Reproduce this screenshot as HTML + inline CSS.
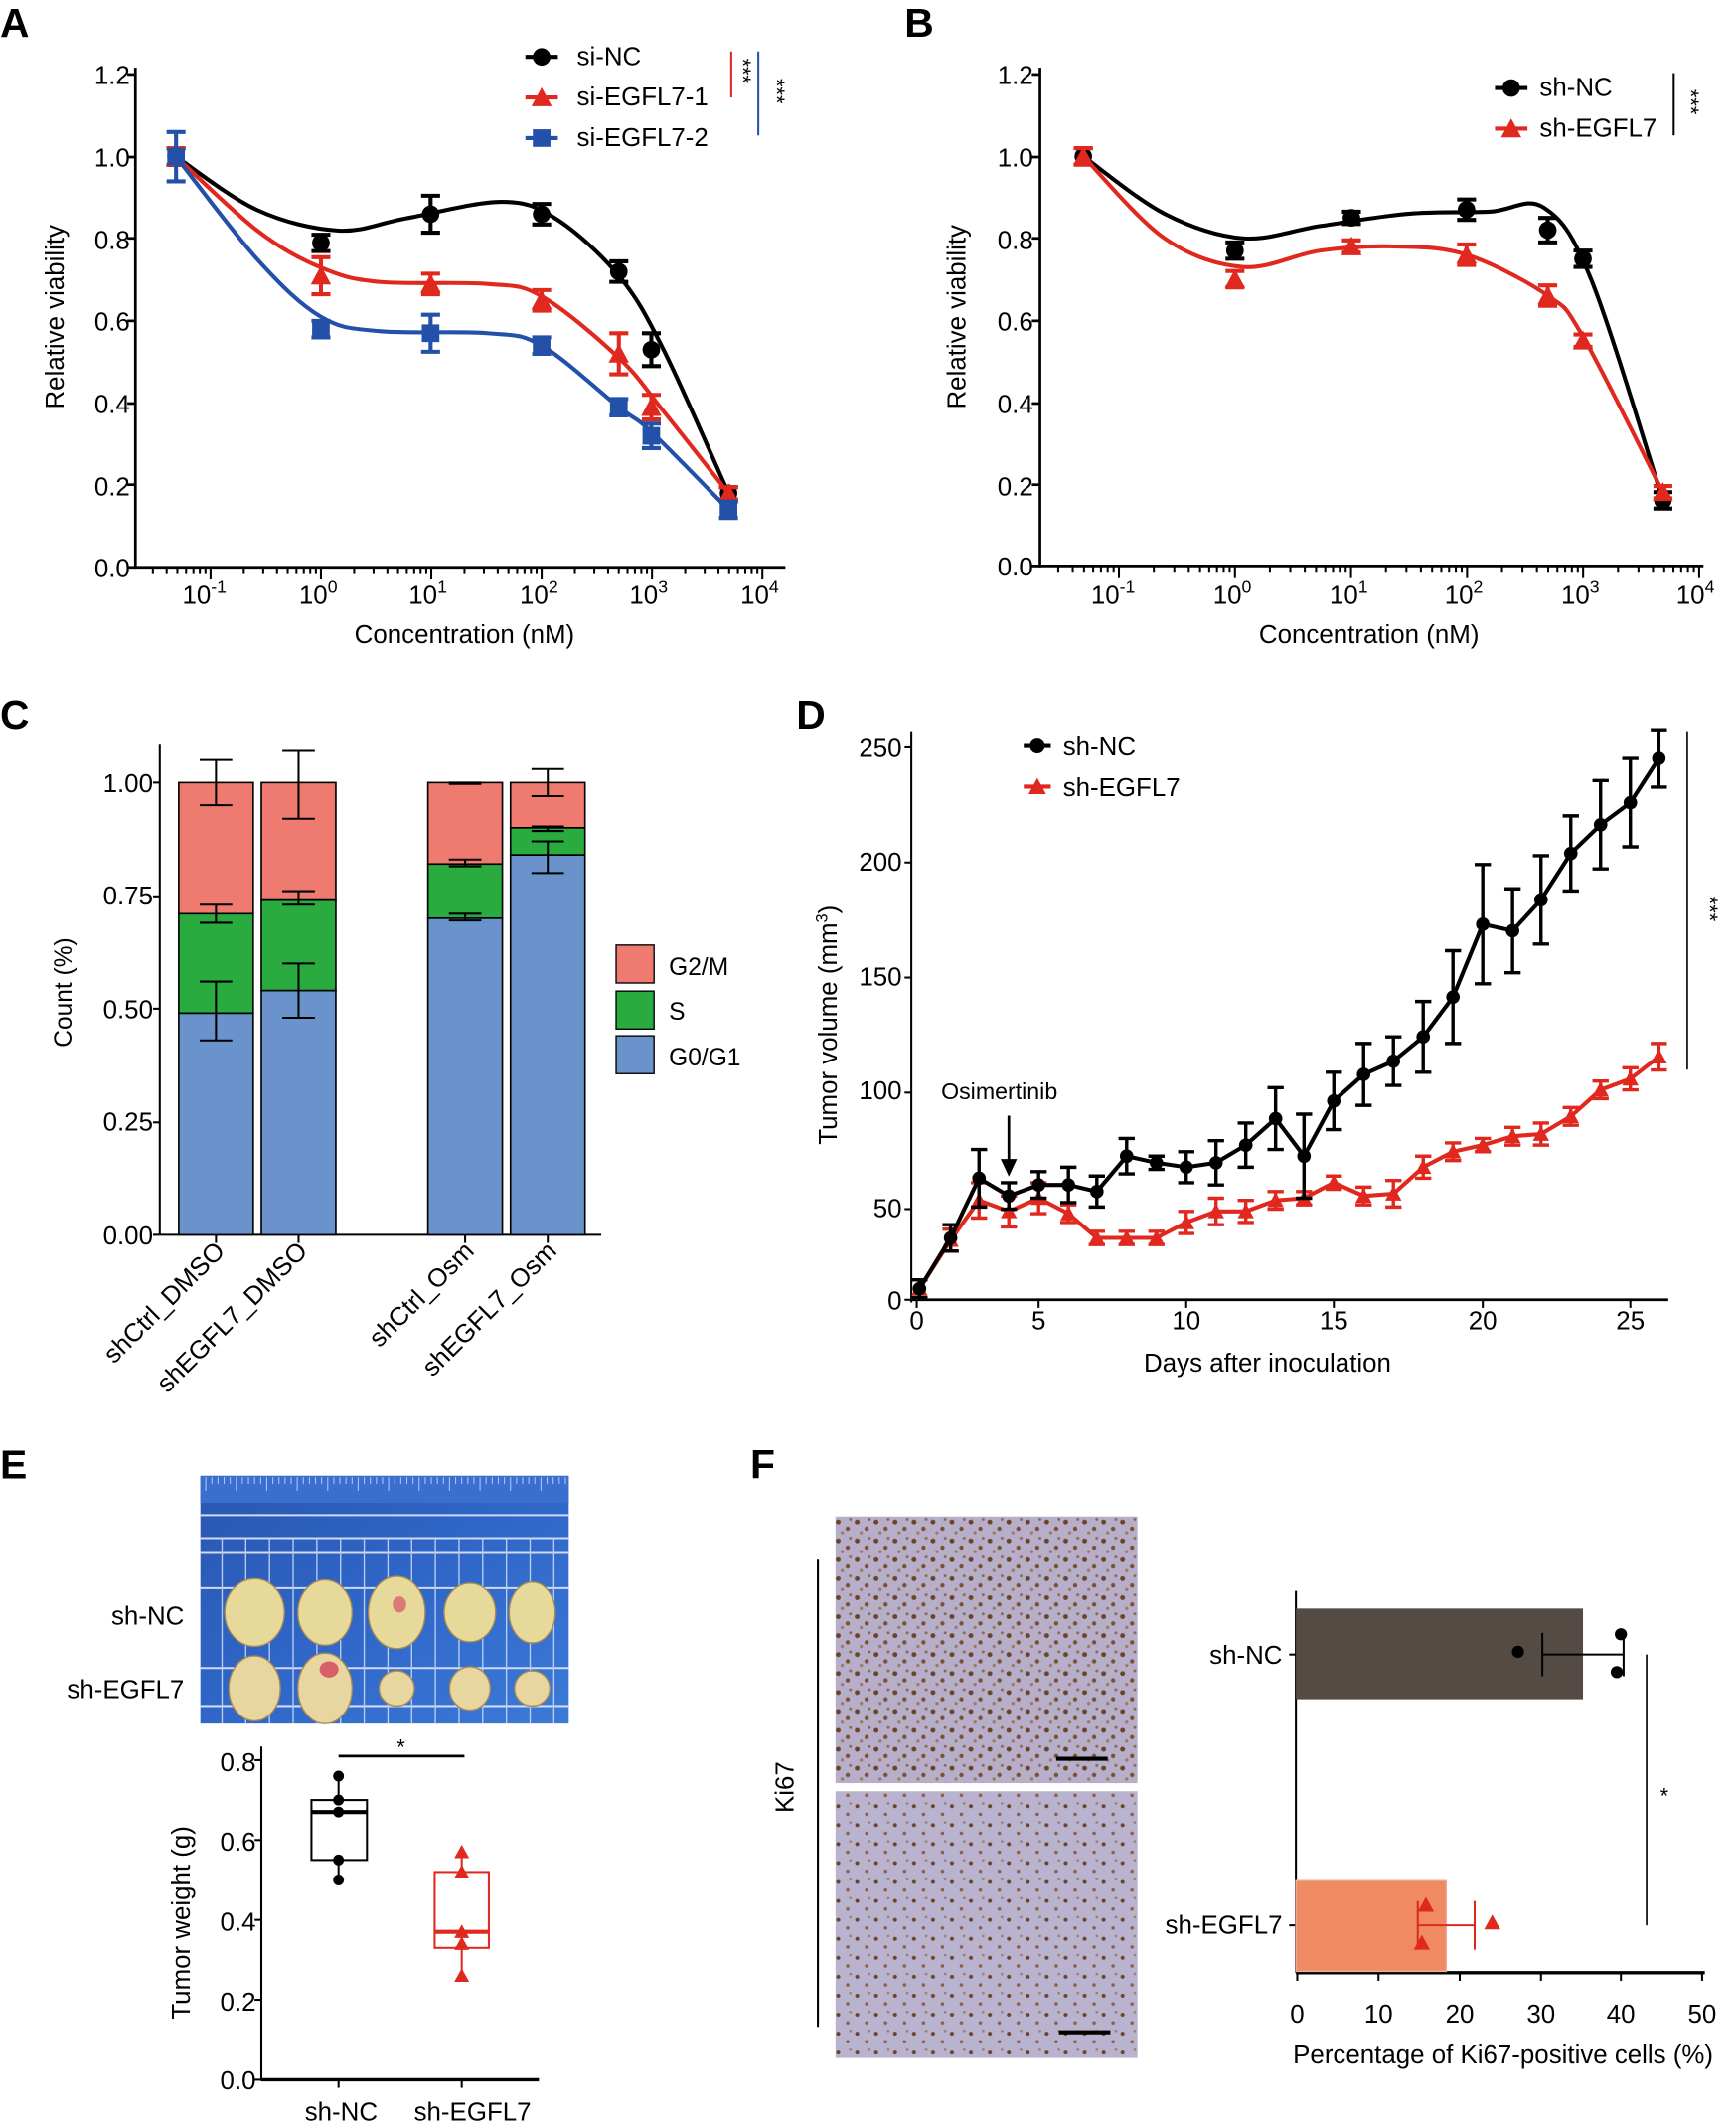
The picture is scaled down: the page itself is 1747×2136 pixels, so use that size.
<!DOCTYPE html>
<html><head><meta charset="utf-8"><style>
html,body{margin:0;padding:0;background:#fff}
svg{display:block;font-family:"Liberation Sans",Arial,sans-serif}
</style></head><body>
<svg id="s" width="1747" height="2136" viewBox="0 0 1282 1568" preserveAspectRatio="none" xmlns="http://www.w3.org/2000/svg">
<defs>
<linearGradient id="blue" x1="0" y1="0" x2="1" y2="1"><stop offset="0" stop-color="#2a56b0"/><stop offset="0.5" stop-color="#2f66c8"/><stop offset="1" stop-color="#3c7ad8"/></linearGradient>
<pattern id="ihc" width="14" height="14" patternUnits="userSpaceOnUse">
<rect width="14" height="14" fill="#b7aeca"/>
<circle cx="3" cy="4" r="1.8" fill="#6b4426"/><circle cx="10" cy="9" r="1.6" fill="#7a5030"/><circle cx="6" cy="12" r="1.2" fill="#9a7a60"/><circle cx="12" cy="2" r="1.1" fill="#8c6a4e"/>
</pattern>
<pattern id="ihc2" width="14" height="14" patternUnits="userSpaceOnUse">
<rect width="14" height="14" fill="#bab3cf"/>
<circle cx="3" cy="4" r="1.5" fill="#6b4426"/><circle cx="10" cy="10" r="1.3" fill="#8a6040"/><circle cx="12" cy="2" r="1" fill="#9c8068"/>
</pattern>
</defs>
<g font-weight="bold" font-size="30">
<text x="0" y="27">A</text><text x="668" y="27">B</text><text x="0" y="538">C</text><text x="588" y="538">D</text><text x="0" y="1092">E</text><text x="554" y="1092">F</text>
</g>
<g id="g"></g>
<g font-size="19" text-anchor="end">
<text x="96" y="62">1.2</text><text x="96" y="123">1.0</text><text x="96" y="184">0.8</text><text x="96" y="244">0.6</text><text x="96" y="305">0.4</text><text x="96" y="366">0.2</text><text x="96" y="426">0.0</text>
<text x="763" y="62">1.2</text><text x="763" y="123">1.0</text><text x="763" y="184">0.8</text><text x="763" y="244">0.6</text><text x="763" y="305">0.4</text><text x="763" y="366">0.2</text><text x="763" y="425">0.0</text>
</g>
<g font-size="19" text-anchor="middle">
<text x="151" y="446">10<tspan dy="-8" font-size="13">-1</tspan></text>
<text x="235" y="446">10<tspan dy="-8" font-size="13">0</tspan></text>
<text x="316" y="446">10<tspan dy="-8" font-size="13">1</tspan></text>
<text x="398" y="446">10<tspan dy="-8" font-size="13">2</tspan></text>
<text x="479" y="446">10<tspan dy="-8" font-size="13">3</tspan></text>
<text x="561" y="446">10<tspan dy="-8" font-size="13">4</tspan></text>
<text x="822" y="446">10<tspan dy="-8" font-size="13">-1</tspan></text>
<text x="910" y="446">10<tspan dy="-8" font-size="13">0</tspan></text>
<text x="996" y="446">10<tspan dy="-8" font-size="13">1</tspan></text>
<text x="1081" y="446">10<tspan dy="-8" font-size="13">2</tspan></text>
<text x="1167" y="446">10<tspan dy="-8" font-size="13">3</tspan></text>
<text x="1252" y="446">10<tspan dy="-8" font-size="13">4</tspan></text>
<text x="343" y="475" font-size="19">Concentration (nM)</text>
<text x="1011" y="475" font-size="19">Concentration (nM)</text>
<text transform="translate(47,234) rotate(-90)" font-size="19">Relative viability</text>
<text transform="translate(713,234) rotate(-90)" font-size="19">Relative viability</text>
</g>
<g font-size="19">
<text x="426" y="48">si-NC</text><text x="426" y="78">si-EGFL7-1</text><text x="426" y="108">si-EGFL7-2</text>
<text x="1137" y="71">sh-NC</text><text x="1137" y="101">sh-EGFL7</text>
</g>
<g font-size="16">
<text transform="translate(543,43) rotate(90)">***</text>
<text transform="translate(568,58) rotate(90)">***</text>
<text transform="translate(1243,66) rotate(90)">***</text>
<text transform="translate(1257,662) rotate(90)">***</text>
<text x="1226" y="1332">*</text>
<text x="293" y="1296">*</text>
</g>
<g font-size="19" text-anchor="end">
<text x="113" y="585">1.00</text><text x="113" y="668">0.75</text><text x="113" y="752">0.50</text><text x="113" y="835">0.25</text><text x="113" y="919">0.00</text>
</g>
<text transform="translate(53,733) rotate(-90)" font-size="18" text-anchor="middle">Count (%)</text>
<g font-size="19" text-anchor="end">
<text transform="translate(167,925) rotate(-45)">shCtrl_DMSO</text>
<text transform="translate(228,925) rotate(-45)">shEGFL7_DMSO</text>
<text transform="translate(351,925) rotate(-45)">shCtrl_Osm</text>
<text transform="translate(412,925) rotate(-45)">shEGFL7_Osm</text>
</g>
<g font-size="18"><text x="494" y="720">G2/M</text><text x="494" y="753">S</text><text x="494" y="787">G0/G1</text></g>
<g font-size="19" text-anchor="end">
<text x="666" y="559">250</text><text x="666" y="643">200</text><text x="666" y="728">150</text><text x="666" y="812">100</text><text x="666" y="899">50</text><text x="666" y="967">0</text>
</g>
<g font-size="19" text-anchor="middle">
<text x="677" y="982">0</text><text x="767" y="982">5</text><text x="876" y="982">10</text><text x="985" y="982">15</text><text x="1095" y="982">20</text><text x="1204" y="982">25</text>
<text x="936" y="1013" font-size="19">Days after inoculation</text>
<text transform="translate(618,757) rotate(-90)" font-size="19">Tumor volume (mm<tspan dy="-7" font-size="12">3</tspan><tspan dy="7">)</tspan></text>
</g>
<g font-size="19"><text x="785" y="558">sh-NC</text><text x="785" y="588">sh-EGFL7</text></g>
<text x="695" y="812" font-size="17">Osimertinib</text>
<g font-size="19" text-anchor="end"><text x="136" y="1200">sh-NC</text><text x="136" y="1254">sh-EGFL7</text></g>
<g font-size="19" text-anchor="end">
<text x="189" y="1308">0.8</text><text x="189" y="1367">0.6</text><text x="189" y="1426">0.4</text><text x="189" y="1485">0.2</text><text x="189" y="1543">0.0</text>
</g>
<text transform="translate(140,1420) rotate(-90)" font-size="19" text-anchor="middle">Tumor weight (g)</text>
<g font-size="19" text-anchor="middle"><text x="252" y="1566">sh-NC</text><text x="349" y="1566">sh-EGFL7</text></g>
<text transform="translate(586,1320) rotate(-90)" font-size="19" text-anchor="middle">Ki67</text>
<g font-size="19" text-anchor="end"><text x="947" y="1229">sh-NC</text><text x="947" y="1428">sh-EGFL7</text></g>
<g font-size="19" text-anchor="middle">
<text x="958" y="1494">0</text><text x="1018" y="1494">10</text><text x="1078" y="1494">20</text><text x="1138" y="1494">30</text><text x="1197" y="1494">40</text><text x="1257" y="1494">50</text>
<text x="1110" y="1524" font-size="19">Percentage of Ki67-positive cells (%)</text>
</g>
</svg>
<script>
const NS="http://www.w3.org/2000/svg",G=document.getElementById('g');
function el(t,a){const e=document.createElementNS(NS,t);for(const k in a)e.setAttribute(k,a[k]);G.appendChild(e);return e;}
function line(x1,y1,x2,y2,c,w){el('line',{x1,y1,x2,y2,stroke:c||'#000','stroke-width':w||1.5});}
function cr(p){let d='M'+p[0][0]+','+p[0][1];for(let i=0;i<p.length-1;i++){const p0=p[i-1]||p[i],p1=p[i],p2=p[i+1],p3=p[i+2]||p2;d+=' C'+(p1[0]+(p2[0]-p0[0])/6)+','+(p1[1]+(p2[1]-p0[1])/6)+' '+(p2[0]-(p3[0]-p1[0])/6)+','+(p2[1]-(p3[1]-p1[1])/6)+' '+p2[0]+','+p2[1];}return d;}
function mark(type,x,y,c,s){s=s||6;if(type=='o')el('circle',{cx:x,cy:y,r:s,fill:c});else if(type=='t')el('polygon',{points:`${x},${y-s-1} ${x-s-1},${y+s} ${x+s+1},${y+s}`,fill:c});else el('rect',{x:x-s,y:y-s,width:2*s,height:2*s,fill:c});}
function eb(x,y1,y2,c,w,cw){line(x,y1,x,y2,c,w||2.5);line(x-(cw||7),y1,x+(cw||7),y1,c,w||2.5);line(x-(cw||7),y2,x+(cw||7),y2,c,w||2.5);}
function logAxis(x0,x1,y,dec0,ppd){line(x0,y,x1,y,'#000',2);for(let d=-2;d<=4;d++){for(let m=1;m<10;m++){const x=dec0+(d+Math.log10(m))*ppd;if(x<x0+3||x>x1)continue;line(x,y,x,y+(m==1?9:5),'#000',1.5);}}}
// Panel A
line(100,50,100,420,'#000',2);[55,116,176,237,298,358,419].forEach(y=>line(94,y,100,y,'#000',2));
logAxis(100,580,419,237,81.5);
const xA=[130,237,318,400,457,481,538],yv=v=>419-v*303.3;
const A=[['#000','o',[1,.79,.86,.86,.72,.53,.18],[.02,.02,.045,.025,.025,.04,.015],[[130,1],[190,.87],[250,.82],[300,.85],[370,.89],[410,.85],[457,.71],[490,.53],[538,.18]]],
['#e0281e','t',[1,.71,.69,.65,.52,.39,.18],[.02,.045,.025,.025,.05,.03,.015],[[130,1],[190,.82],[237,.73],[280,.695],[360,.69],[400,.66],[457,.51],[490,.38],[538,.18]]],
['#2350a8','s',[1,.58,.57,.54,.39,.32,.14],[.06,.02,.045,.02,.02,.03,.02],[[130,1],[190,.75],[237,.61],[280,.575],[360,.57],[400,.54],[457,.39],[481,.33],[538,.14]]]];
A.forEach(([c,m,v,e,cp])=>{const p=cp.map(q=>[q[0],yv(q[1])]);el('path',{d:cr(p),fill:'none',stroke:c,'stroke-width':3});xA.forEach((x,i)=>{eb(x,yv(v[i]+e[i]),yv(v[i]-e[i]),c,3);mark(m,x,yv(v[i]),c,6.5);});});
[['#000','o',42],['#e0281e','t',72],['#2350a8','s',102]].forEach(([c,m,y])=>{line(388,y,412,y,c,3);mark(m,400,y,c,6.5);});
line(540,38,540,72,'#e0281e',1.5);line(560,38,560,100,'#2350a8',1.5);
// Panel B
line(768,50,768,419,'#000',2);[55,116,176,237,298,358,418].forEach(y=>line(762,y,768,y,'#000',2));
logAxis(768,1258,418,912,85.7);
const xB=[800,912,998,1083,1143,1169,1228],yb=v=>418-v*302.5;
[['#000','o',[1,.77,.85,.87,.82,.75,.16],[.02,.02,.015,.025,.03,.02,.02],[[800,1],[860,.86],[918,.80],[975,.83],[1040,.86],[1100,.865],[1140,.875],[1175,.70],[1228,.16]]],
['#e0281e','t',[1,.70,.78,.76,.66,.55,.18],[.02,.02,.015,.025,.025,.015,.015],[[800,1],[860,.80],[918,.73],[975,.77],[1030,.78],[1083,.76],[1143,.66],[1169,.56],[1228,.18]]]].forEach(([c,m,v,e,cp])=>{const p=cp.map(q=>[q[0],yb(q[1])]);el('path',{d:cr(p),fill:'none',stroke:c,'stroke-width':3});xB.forEach((x,i)=>{eb(x,yb(v[i]+e[i]),yb(v[i]-e[i]),c,3);mark(m,x,yb(v[i]),c,6.5);});});
line(1104,65,1128,65,'#000',3);mark('o',1116,65,'#000',6.5);line(1104,95,1128,95,'#e0281e',3);mark('t',1116,95,'#e0281e',6.5);
line(1236,54,1236,100,'#000',1.5);
// Panel C
line(118,550,118,912,'#000',1.5);line(118,912,444,912,'#000',1.5);
[578,662,745,829,912].forEach(y=>line(113,y,118,y,'#000',1.5));
const yc=v=>912-v*334;
[[132,.49,.71,[.43,.56],[.69,.73],[.95,1.05]],[193,.54,.74,[.48,.60],[.73,.76],[.92,1.07]],[316,.70,.82,[.695,.71],[.815,.83],[.997,1.0]],[377,.84,.90,[.80,.87],[.893,.903],[.97,1.03]]].forEach(([x,a,b,e1,e2,e3])=>{
el('rect',{x,y:yc(1),width:55,height:yc(b)-yc(1),fill:'#ef7b70',stroke:'#000','stroke-width':1.2});
el('rect',{x,y:yc(b),width:55,height:yc(a)-yc(b),fill:'#2aab3f',stroke:'#000','stroke-width':1.2});
el('rect',{x,y:yc(a),width:55,height:yc(0)-yc(a),fill:'#6b93cb',stroke:'#000','stroke-width':1.2});
[e1,e2,e3].forEach(e=>eb(x+27.5,yc(e[1]),yc(e[0]),'#000',1.5,12));line(x+27.5,912,x+27.5,918,'#000',1.5);});
[['#ef7b70',698],['#2aab3f',732],['#6b93cb',765]].forEach(([c,y])=>el('rect',{x:455,y,width:28,height:28,fill:c,stroke:'#000','stroke-width':1}));
// Panel D
line(673,540,673,962,'#000',1.5);line(673,960,1232,960,'#000',2);
[552,637,722,807,893,960].forEach(y=>line(668,y,673,y,'#000',1.5));[677,767,876,985,1095,1204].forEach(x=>line(x,960,x,966,'#000',1.5));
const xd=[679,702,723,745,767,789,810,832,854,876,898,920,942,963,985,1007,1029,1051,1073,1095,1117,1138,1160,1182,1204,1225],yd=v=>960-v*1.632;
const NC=[5,28,55,47,52,52,49,65,62,60,62,70,82,65,90,102,108,119,137,170,167,181,202,215,225,245],ne=[4,6,13,6,6,8,7,8,3,7,10,10,14,19,13,14,11,16,21,27,19,20,17,20,20,13];
const EG=[5,27,45,40,46,39,28,28,28,35,40,40,45,46,53,47,48,60,67,70,74,75,83,95,100,110],ee=[4,5,8,7,7,4,3,3,3,5,6,5,4,3,3,4,6,5,4,3,4,5,4,4,5,6];
el('polyline',{points:EG.map((v,i)=>xd[i]+','+yd(v)).join(' '),fill:'none',stroke:'#e0281e','stroke-width':3});
EG.forEach((v,i)=>{eb(xd[i],yd(v+ee[i]),yd(v-ee[i]),'#e0281e',2.5,6);mark('t',xd[i],yd(v),'#e0281e',5);});
el('polyline',{points:NC.map((v,i)=>xd[i]+','+yd(v)).join(' '),fill:'none',stroke:'#000','stroke-width':3});
NC.forEach((v,i)=>{eb(xd[i],yd(v+ne[i]),yd(v-ne[i]),'#000',2.5,6);mark('o',xd[i],yd(v),'#000',5);});
line(756,551,776,551,'#000',3);mark('o',766,551,'#000',5.5);line(756,581,776,581,'#e0281e',3);mark('t',766,581,'#e0281e',5.5);
line(745,824,745,858,'#000',2);el('polygon',{points:'739,856 751,856 745,869',fill:'#000'});
line(1246,540,1246,790,'#000',1.2);
// Panel E photo
el('rect',{x:148,y:1090,width:272,height:183,fill:'url(#blue)'});
el('rect',{x:148,y:1090,width:272,height:20,fill:'#3a6fd0'});
for(let x=152;x<420;x+=4.5)line(x,1091,x,1091+(Math.round((x-152)/4.5)%5==0?10:5),'#a9c4ee',0.8);
[1119,1136,1147,1173,1232,1260].forEach(y=>line(148,y,420,y,'#cfdaf4',1.5));
for(let x=164;x<420;x+=17.5)line(x,1136,x,1273,'#b9cdef',1);
const tx=[188,240,293,347,393];[[22,30],[20,29],[21,32],[19,26],[17,27]].forEach(([w,h],i)=>el('ellipse',{cx:tx[i],cy:1191,rx:w,ry:h/1.2,fill:'#e6d99a',stroke:'#a88a50','stroke-width':1}));
[[19,24],[20,26],[13,13],[15,16],[13,13]].forEach(([w,h],i)=>el('ellipse',{cx:tx[i],cy:1247,rx:w,ry:h,fill:'#e8d6a0',stroke:'#a88a50','stroke-width':1}));
el('ellipse',{cx:243,cy:1233,rx:7,ry:6,fill:'#d9606a'});el('ellipse',{cx:295,cy:1185,rx:5,ry:6,fill:'#dc7a7a'});
// boxplot
line(193,1290,193,1537,'#000',1.5);line(193,1536,398,1536,'#000',2.5);
[1300,1359,1418,1477,1536].forEach(y=>line(188,y,193,y,'#000',1.5));line(250,1536,250,1542,'#000',1.5);line(341,1536,341,1542,'#000',1.5);
const ye=v=>1536-v*295;
line(250,ye(.76),250,ye(.5),'#000',1.5);el('rect',{x:230,y:ye(.70),width:41,height:ye(.55)-ye(.70),fill:'#fff',stroke:'#000','stroke-width':1.5});line(230,ye(.67),271,ye(.67),'#000',3);
[.76,.70,.67,.55,.5].forEach(v=>mark('o',250,ye(v),'#000',4));
line(341,ye(.57),341,ye(.26),'#e0281e',1.5);el('rect',{x:321,y:ye(.52),width:40,height:ye(.33)-ye(.52),fill:'#fff',stroke:'#e0281e','stroke-width':1.5});line(321,ye(.37),361,ye(.37),'#e0281e',3);
[.57,.52,.37,.34,.26].forEach(v=>mark('t',341,ye(v),'#e0281e',4.5));
line(250,1297,343,1297,'#000',2);
// Panel F
el('rect',{x:617,y:1120,width:223,height:197,fill:'url(#ihc)'});el('rect',{x:617,y:1323,width:223,height:197,fill:'url(#ihc2)'});
line(780,1299,818,1299,'#000',3);line(782,1501,820,1501,'#000',3);
line(604,1152,604,1497,'#000',1.5);
line(957,1175,957,1457,'#000',1.5);line(957,1457,1259,1457,'#000',2.5);
[958,1018,1078,1138,1197,1257].forEach(x=>line(x,1457,x,1463,'#000',1.5));line(952,1222,957,1222,'#000',1.5);line(952,1422,957,1422,'#000',1.5);
el('rect',{x:957,y:1188,width:212,height:67,fill:'#554b45'});
el('rect',{x:957,y:1389,width:111,height:67,fill:'#ef8a62',stroke:'#e8b09a','stroke-width':1});
line(1139,1222,1199,1222,'#000',1.5);line(1139,1206,1139,1238,'#000',1.5);line(1199,1206,1199,1238,'#000',1.5);
mark('o',1121,1220,'#000',4.5);mark('o',1197,1207,'#000',4.5);mark('o',1194,1235,'#000',4.5);
line(1047,1422,1089,1422,'#e0281e',1.5);line(1047,1404,1047,1440,'#e0281e',1.5);line(1089,1404,1089,1440,'#e0281e',1.5);
mark('t',1053,1407,'#e0281e',5);mark('t',1050,1435,'#e0281e',5);mark('t',1102,1420,'#e0281e',5);
line(1216,1222,1216,1422,'#000',1.2);
</script>
</body></html>
